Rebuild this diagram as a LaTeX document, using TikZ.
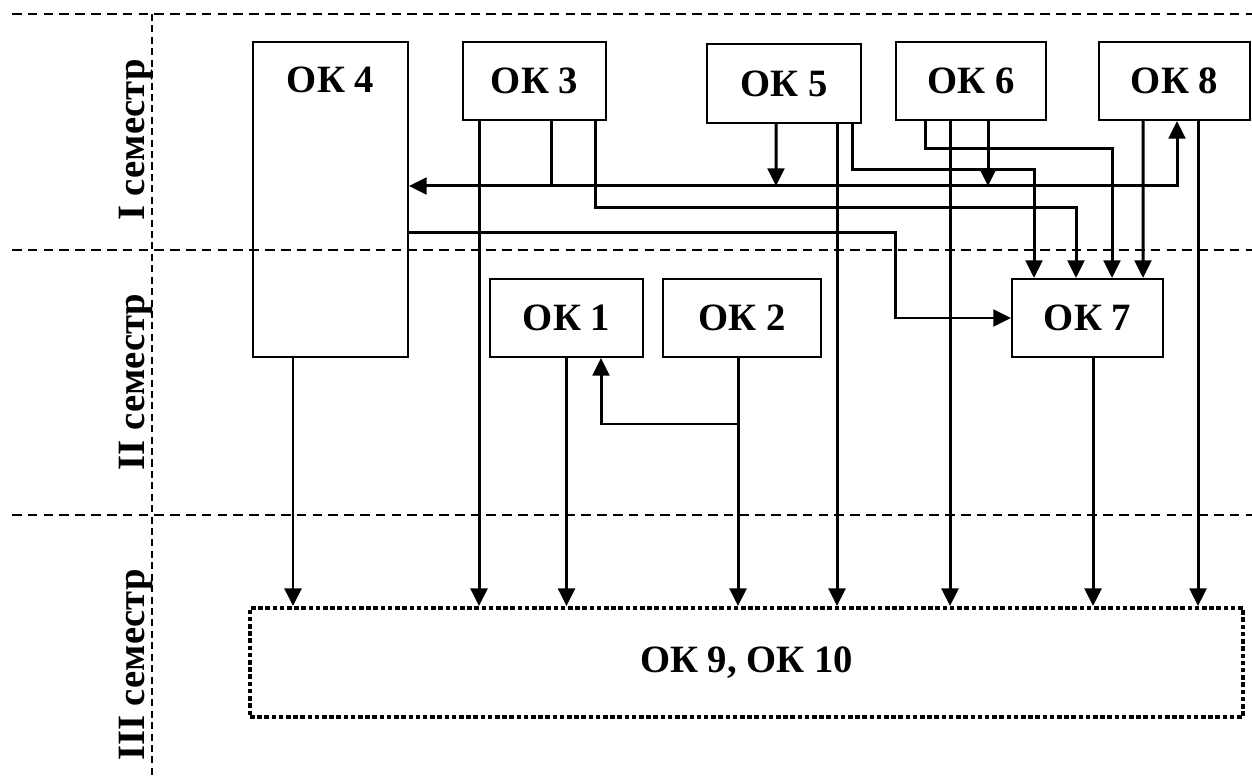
\documentclass[tikz,border=0pt]{standalone}
\usepackage{fontspec}
\setmainfont{Liberation Serif}
\usetikzlibrary{arrows.meta}

\begin{document}
\begin{tikzpicture}[>={Triangle[length=10pt,width=9.5pt]},
  txt/.style={font=\fontsize{22}{26}\selectfont\bfseries},
  ok/.style={draw, line width=1.2pt, txt, minimum height=1.56cm},
  sem/.style={rotate=90, font=\fontsize{22}{26}\selectfont\bfseries},
  ln/.style={line width=1.7pt},
  arr/.style={ln, ->},
  sep/.style={line width=1.1pt, dash pattern=on 5.5pt off 3.5pt}]
\useasboundingbox (0,0) rectangle (25.04,15.56);
% semesters
\draw[sep] (0.24,15.28) -- (25.04,15.28);
\draw[sep] (0.24,10.56) -- (25.04,10.56);
\draw[sep] (0.24,5.26) -- (25.04,5.26);
\draw[line width=1.1pt, dash pattern=on 4pt off 2.5pt] (3.04,15.28) -- (3.04,0);
\node[sem] (sem1) at (2.72,12.76) {I семестр};
\node[sem] (sem2) at (2.72,7.92) {II семестр};
\node[sem] (sem3) at (2.72,2.26) {III семестр};
% blocks
\node[ok, minimum width=3.1cm, minimum height=6.3cm,
  label={[txt, below=0.4cm]north:ОК 4}] (ok4) at (6.61,11.57) {};
\node[ok, minimum width=2.86cm] (ok3) at (10.69,13.94) {ОК 3};
\node[ok, minimum width=3.08cm, minimum height=1.58cm] (ok5) at (15.68,13.89) {ОК 5};
\node[ok, minimum width=3.0cm] (ok6) at (19.42,13.94) {ОК 6};
\node[ok, minimum width=3.02cm] (ok8) at (23.49,13.94) {ОК 8};
\node[ok, minimum width=3.06cm] (ok1) at (11.33,9.2) {ОК 1};
\node[ok, minimum width=3.16cm] (ok2) at (14.84,9.2) {ОК 2};
\node[ok, minimum width=3.02cm] (ok7) at (21.75,9.2) {ОК 7};
\node[txt, draw, line width=2.2pt, dash pattern=on 2.6pt off 1.5pt,
  minimum width=19.86cm, minimum height=2.18cm] (ok910) at (14.93,2.31) {ОК 9, ОК 10};
% junctions
\coordinate (j3) at (11.02,11.84);
\coordinate (j5) at (15.52,11.84);
\coordinate (j6) at (19.76,11.84);
\coordinate (j2) at (14.76,7.08);
% links in semester I
\draw[ln, <->] ([yshift=0.27cm]ok4.east) -| ([xshift=0.05cm]ok8.south);
\draw[ln] ([xshift=0.33cm]ok3.south) -- (j3);
\draw[arr] ([xshift=-0.16cm]ok5.south) -- (j5);
\draw[arr] ([xshift=0.34cm]ok6.south) -- (j6);
\draw[arr] ([xshift=1.21cm]ok3.south) -- ++(0,-1.72) -| ([xshift=-0.23cm]ok7.north);
\draw[arr] ([xshift=1.36cm]ok5.south) -- ++(0,-0.9) -| ([xshift=-1.07cm]ok7.north);
\draw[arr] ([xshift=-0.92cm]ok6.south) -- ++(0,-0.54) -| ([xshift=0.49cm]ok7.north);
\draw[arr] ([xshift=-0.63cm]ok8.south) -- ([xshift=1.11cm]ok7.north);
\draw[arr] ([yshift=-0.67cm]ok4.east) -- ++(9.72,0) |- (ok7.west);
\draw[arr] (j2) -| ([xshift=0.69cm]ok1.south);
% links down to semester III
\coordinate (d4) at ([xshift=-0.75cm]ok4.south);
\coordinate (d3) at ([xshift=-1.11cm]ok3.south);
\coordinate (d1) at (ok1.south);
\coordinate (d2) at ([xshift=-0.08cm]ok2.south);
\coordinate (d5) at ([xshift=1.06cm]ok5.south);
\coordinate (d6) at ([xshift=-0.42cm]ok6.south);
\coordinate (d7) at ([xshift=0.11cm]ok7.south);
\coordinate (d8) at ([xshift=0.47cm]ok8.south);
\foreach \s in {d4,d3,d1,d2,d5,d6,d7,d8}{
  \draw[arr] (\s) -- (\s |- ok910.north);}
\end{tikzpicture}
\end{document}
